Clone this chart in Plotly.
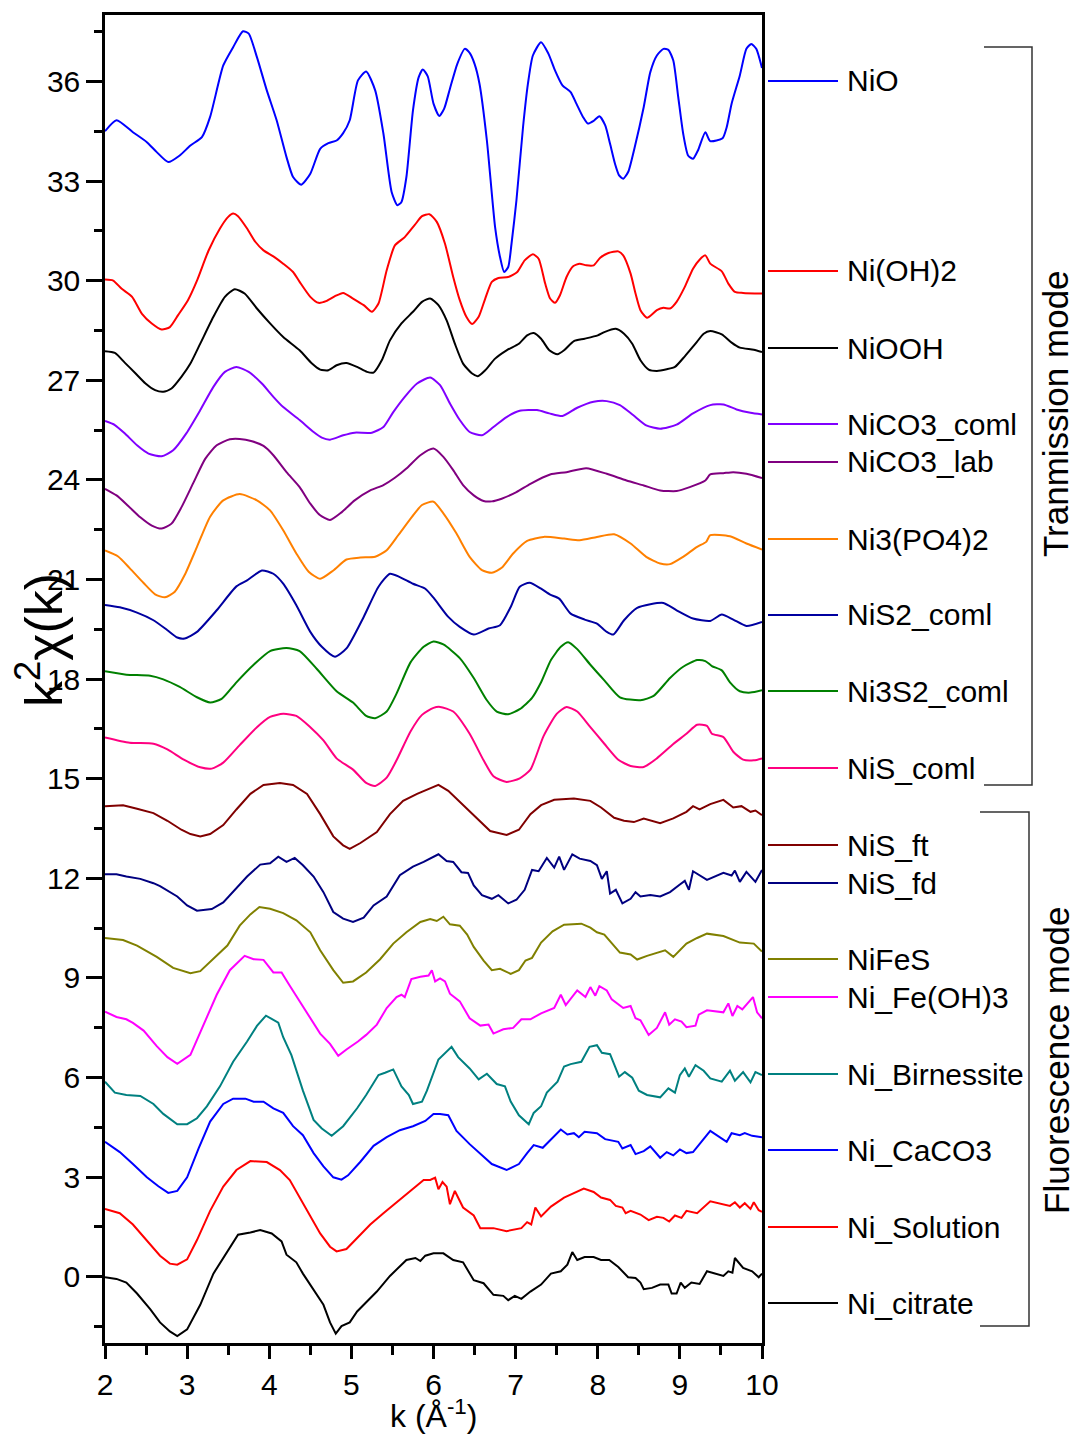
import plotly.graph_objects as go

# ---------------- data ----------------
NIO_K = [2.00, 2.14, 2.34, 2.51, 2.63, 2.77, 2.91, 3.04, 3.18, 3.28, 3.44, 3.56, 3.68, 3.75, 3.85, 3.97, 4.09, 4.21, 4.29, 4.39,
         4.50, 4.62, 4.72, 4.82, 4.90, 4.98, 5.08, 5.18, 5.29, 5.39, 5.49, 5.56, 5.61, 5.67, 5.75, 5.82, 5.87, 5.93, 6.00, 6.07,
         6.13, 6.20, 6.29, 6.38, 6.44, 6.50, 6.56, 6.65, 6.75, 6.81, 6.86, 6.91, 6.95, 7.01, 7.09, 7.15, 7.21, 7.31, 7.40, 7.48,
         7.57, 7.67, 7.74, 7.82, 7.88, 7.95, 8.02, 8.09, 8.15, 8.21, 8.26, 8.31, 8.37, 8.45, 8.56, 8.64, 8.72, 8.80, 8.86, 8.92,
         8.98, 9.04, 9.10, 9.16, 9.22, 9.31, 9.37, 9.52, 9.57, 9.63, 9.73, 9.81, 9.87, 9.93, 10.0]
NIO_Y = [34.50, 34.83, 34.47, 34.17, 33.87, 33.57, 33.77, 34.07, 34.32, 34.93, 36.48, 37.03, 37.51, 37.44, 36.73, 35.73, 34.83, 33.72, 33.12, 32.89,
         33.22, 33.97, 34.14, 34.22, 34.44, 34.83, 36.03, 36.30, 35.73, 34.43, 32.67, 32.27, 32.37, 33.12, 35.13, 36.13, 36.36, 36.15, 35.33, 34.96,
         35.18, 35.78, 36.53, 36.98, 36.86, 36.53, 35.93, 34.22, 31.61, 30.71, 30.26, 30.41, 31.11, 32.42, 34.62, 35.93, 36.78, 37.18, 36.83, 36.33,
         35.88, 35.68, 35.33, 34.93, 34.73, 34.81, 34.95, 34.68, 34.12, 33.52, 33.17, 33.07, 33.27, 34.02, 35.23, 36.28, 36.78, 36.98, 36.95, 36.63,
         35.53, 34.43, 33.77, 33.67, 33.92, 34.47, 34.20, 34.29, 34.62, 35.33, 36.18, 36.98, 37.13, 36.98, 36.40]

NIOH2_K = [2.00, 2.10, 2.20, 2.33, 2.45, 2.57, 2.69, 2.79, 2.89, 3.01, 3.12, 3.26, 3.40, 3.50, 3.56, 3.62, 3.73, 3.83, 3.93, 4.05,
           4.17, 4.29, 4.37, 4.50, 4.60, 4.70, 4.80, 4.90, 5.02, 5.15, 5.25, 5.33, 5.43, 5.53, 5.65, 5.77, 5.86, 5.95, 6.04, 6.14,
           6.24, 6.32, 6.40, 6.47, 6.55, 6.63, 6.71, 6.79, 6.91, 7.02, 7.11, 7.21, 7.28, 7.36, 7.42, 7.48, 7.54, 7.62, 7.70, 7.78,
           7.86, 7.95, 8.03, 8.13, 8.25, 8.31, 8.40, 8.46, 8.52, 8.60, 8.72, 8.80, 8.88, 8.96, 9.06, 9.16, 9.24, 9.31, 9.37, 9.51,
           9.59, 9.67, 9.77, 10.0]
NIOH2_Y = [30.03, 30.00, 29.76, 29.51, 29.00, 28.71, 28.53, 28.60, 28.96, 29.41, 30.00, 30.90, 31.57, 31.92, 32.02, 31.94, 31.57, 31.17, 30.91, 30.73,
           30.51, 30.26, 29.96, 29.51, 29.33, 29.39, 29.53, 29.63, 29.46, 29.26, 29.06, 29.31, 30.31, 31.06, 31.31, 31.67, 31.94, 32.00, 31.77, 31.11,
           30.11, 29.41, 28.91, 28.69, 28.91, 29.46, 29.96, 30.08, 30.11, 30.26, 30.61, 30.79, 30.66, 29.91, 29.46, 29.33, 29.56, 30.11, 30.43, 30.51,
           30.46, 30.46, 30.69, 30.83, 30.88, 30.76, 30.21, 29.61, 29.11, 28.88, 29.11, 29.18, 29.16, 29.36, 29.81, 30.36, 30.63, 30.76, 30.51, 30.28,
           29.91, 29.66, 29.63, 29.61]

NIOOH_K = [2.00, 2.12, 2.24, 2.37, 2.49, 2.61, 2.71, 2.81, 2.93, 3.04, 3.16, 3.32, 3.46, 3.58, 3.70, 3.85, 4.01, 4.17, 4.37, 4.52,
           4.62, 4.72, 4.82, 4.94, 5.07, 5.19, 5.27, 5.37, 5.47, 5.61, 5.75, 5.86, 5.96, 6.06, 6.16, 6.26, 6.36, 6.47, 6.54, 6.63,
           6.75, 6.89, 7.04, 7.14, 7.22, 7.31, 7.41, 7.51, 7.59, 7.71, 7.84, 8.00, 8.08, 8.22, 8.32, 8.42, 8.52, 8.62, 8.72, 8.84,
           8.94, 9.06, 9.19, 9.29, 9.37, 9.51, 9.63, 9.73, 9.90, 10.0]
NIOOH_Y = [27.87, 27.82, 27.53, 27.21, 26.91, 26.70, 26.65, 26.75, 27.10, 27.50, 28.10, 28.91, 29.51, 29.74, 29.61, 29.16, 28.71, 28.30, 27.90, 27.50,
           27.32, 27.30, 27.45, 27.52, 27.40, 27.25, 27.23, 27.60, 28.20, 28.71, 29.06, 29.36, 29.46, 29.26, 28.80, 28.10, 27.50, 27.20, 27.12, 27.30,
           27.65, 27.90, 28.10, 28.35, 28.42, 28.25, 27.90, 27.78, 27.90, 28.18, 28.25, 28.35, 28.45, 28.55, 28.40, 28.10, 27.60, 27.32, 27.28, 27.33,
           27.40, 27.72, 28.10, 28.40, 28.48, 28.38, 28.13, 27.98, 27.92, 27.85]

NICO3C_K = [2.00, 2.12, 2.24, 2.39, 2.53, 2.69, 2.83, 2.99, 3.16, 3.32, 3.46, 3.60, 3.75, 3.91, 4.05, 4.17, 4.37, 4.54, 4.64, 4.74,
            4.90, 5.04, 5.25, 5.39, 5.51, 5.65, 5.80, 5.96, 6.08, 6.20, 6.32, 6.44, 6.59, 6.73, 6.89, 7.05, 7.26, 7.41, 7.57, 7.75,
            7.95, 8.11, 8.27, 8.43, 8.59, 8.76, 8.96, 9.16, 9.37, 9.53, 9.69, 9.86, 10.0]
NICO3C_Y = [25.77, 25.65, 25.40, 25.04, 24.79, 24.71, 24.89, 25.40, 26.10, 26.80, 27.25, 27.40, 27.25, 26.90, 26.50, 26.19, 25.80, 25.44, 25.27, 25.21,
            25.34, 25.42, 25.42, 25.59, 26.04, 26.50, 26.90, 27.08, 26.85, 26.30, 25.80, 25.44, 25.34, 25.59, 25.89, 26.08, 26.10, 26.00, 25.92, 26.17,
            26.35, 26.37, 26.25, 25.95, 25.64, 25.54, 25.66, 26.00, 26.25, 26.27, 26.12, 26.02, 25.97]

NICO3L_K = [2.00, 2.14, 2.28, 2.43, 2.57, 2.69, 2.81, 2.93, 3.08, 3.22, 3.36, 3.52, 3.64, 3.79, 3.93, 4.05, 4.21, 4.37, 4.50, 4.62,
            4.74, 4.88, 5.04, 5.23, 5.39, 5.53, 5.67, 5.84, 6.00, 6.12, 6.24, 6.36, 6.49, 6.61, 6.71, 6.83, 7.01, 7.18, 7.42, 7.62,
            7.86, 8.11, 8.35, 8.56, 8.76, 8.96, 9.12, 9.31, 9.37, 9.53, 9.65, 9.81, 10.0]
NICO3L_Y = [23.73, 23.53, 23.22, 22.87, 22.62, 22.53, 22.68, 23.17, 23.93, 24.63, 25.04, 25.22, 25.23, 25.16, 25.02, 24.74, 24.23, 23.78, 23.28, 22.93,
            22.79, 23.02, 23.38, 23.68, 23.84, 24.06, 24.34, 24.74, 24.94, 24.69, 24.29, 23.84, 23.53, 23.36, 23.35, 23.43, 23.63, 23.88, 24.16, 24.23,
            24.35, 24.18, 23.98, 23.83, 23.68, 23.66, 23.78, 23.98, 24.16, 24.20, 24.23, 24.18, 24.05]

NI3PO42_K = [2.00, 2.16, 2.30, 2.47, 2.61, 2.73, 2.85, 2.97, 3.12, 3.28, 3.44, 3.64, 3.85, 4.01, 4.17, 4.33, 4.48, 4.62, 4.78, 4.94,
             5.11, 5.29, 5.43, 5.57, 5.74, 5.86, 6.00, 6.12, 6.28, 6.44, 6.59, 6.71, 6.83, 6.97, 7.14, 7.34, 7.59, 7.78, 7.99, 8.20,
             8.40, 8.59, 8.76, 8.88, 9.04, 9.21, 9.32, 9.37, 9.61, 9.81, 10.0]
NI3PO42_Y = [21.87, 21.69, 21.34, 20.89, 20.55, 20.46, 20.63, 21.13, 21.98, 22.89, 23.38, 23.57, 23.38, 23.08, 22.48, 21.78, 21.23, 21.02, 21.27, 21.60,
             21.66, 21.68, 21.88, 22.33, 22.89, 23.24, 23.34, 22.99, 22.38, 21.68, 21.28, 21.20, 21.35, 21.78, 22.16, 22.28, 22.23, 22.18, 22.28, 22.36,
             22.08, 21.68, 21.48, 21.46, 21.68, 21.98, 22.13, 22.33, 22.30, 22.08, 21.90]

NIS2_K = [2.00, 2.18, 2.39, 2.59, 2.76, 2.88, 2.97, 3.12, 3.36, 3.60, 3.73, 3.91, 4.05, 4.17, 4.33, 4.50, 4.64, 4.80, 4.94, 5.15,
          5.33, 5.47, 5.59, 5.75, 5.90, 6.00, 6.18, 6.32, 6.49, 6.67, 6.81, 6.94, 7.05, 7.17, 7.31, 7.42, 7.53, 7.67, 7.84, 7.99,
          8.11, 8.19, 8.32, 8.48, 8.64, 8.80, 8.96, 9.16, 9.37, 9.51, 9.65, 9.81, 10.0]
NIS2_Y = [20.23, 20.16, 20.00, 19.77, 19.47, 19.25, 19.22, 19.42, 20.07, 20.79, 20.97, 21.27, 21.17, 20.87, 20.22, 19.42, 18.97, 18.67, 18.92, 19.87,
          20.78, 21.17, 21.07, 20.87, 20.72, 20.45, 19.87, 19.57, 19.34, 19.52, 19.62, 20.17, 20.78, 20.90, 20.72, 20.54, 20.42, 19.97, 19.79, 19.67,
          19.42, 19.34, 19.77, 20.14, 20.25, 20.29, 20.07, 19.82, 19.75, 19.94, 19.79, 19.60, 19.72]

NI3S2_K = [2.00, 2.26, 2.55, 2.71, 2.91, 3.12, 3.28, 3.42, 3.60, 3.81, 4.01, 4.21, 4.37, 4.58, 4.82, 5.02, 5.18, 5.29, 5.43, 5.55,
           5.72, 5.88, 6.00, 6.12, 6.32, 6.49, 6.65, 6.77, 6.91, 7.05, 7.20, 7.31, 7.43, 7.55, 7.64, 7.75, 7.91, 8.08, 8.27, 8.52,
           8.68, 8.88, 9.04, 9.21, 9.31, 9.39, 9.51, 9.61, 9.73, 9.86, 10.0]
NI3S2_Y = [18.23, 18.13, 18.10, 17.99, 17.76, 17.45, 17.29, 17.40, 17.90, 18.43, 18.84, 18.93, 18.84, 18.30, 17.63, 17.29, 16.89, 16.82, 17.02, 17.56,
           18.50, 18.97, 19.13, 19.04, 18.63, 18.03, 17.36, 17.02, 16.94, 17.09, 17.43, 17.90, 18.57, 18.97, 19.11, 18.90, 18.43, 17.96, 17.45, 17.36,
           17.49, 18.03, 18.37, 18.57, 18.54, 18.39, 18.26, 17.90, 17.63, 17.59, 17.66]

NISC_K = [2.00, 2.30, 2.59, 2.76, 2.96, 3.16, 3.30, 3.44, 3.64, 3.85, 4.01, 4.17, 4.33, 4.50, 4.66, 4.82, 5.02, 5.18, 5.29, 5.43,
          5.55, 5.72, 5.86, 6.00, 6.08, 6.24, 6.44, 6.61, 6.73, 6.89, 7.05, 7.18, 7.34, 7.50, 7.62, 7.75, 7.91, 8.08, 8.25, 8.40,
          8.56, 8.72, 8.92, 9.08, 9.21, 9.33, 9.39, 9.53, 9.65, 9.77, 9.90, 10.0]
NISC_Y = [16.24, 16.08, 16.05, 15.88, 15.57, 15.34, 15.30, 15.48, 16.01, 16.55, 16.86, 16.95, 16.89, 16.55, 16.15, 15.61, 15.27, 14.87, 14.78, 15.03,
          15.55, 16.42, 16.92, 17.13, 17.16, 17.02, 16.35, 15.55, 15.07, 14.90, 15.01, 15.27, 16.28, 16.95, 17.16, 17.02, 16.55, 16.05, 15.57, 15.38,
          15.35, 15.61, 16.04, 16.35, 16.62, 16.59, 16.35, 16.25, 15.81, 15.57, 15.55, 15.61]

NISFT_K = [2.00, 2.22, 2.39, 2.59, 2.76, 2.93, 3.04, 3.16, 3.28, 3.44, 3.60, 3.77, 3.93, 4.13, 4.29, 4.46, 4.62, 4.78, 4.90, 4.98,
           5.11, 5.31, 5.47, 5.63, 5.80, 5.96, 6.06, 6.18, 6.36, 6.52, 6.69, 6.89, 7.04, 7.18, 7.31, 7.47, 7.71, 7.91, 8.04, 8.20,
           8.32, 8.44, 8.56, 8.76, 8.92, 9.08, 9.16, 9.24, 9.37, 9.53, 9.65, 9.75, 9.86, 9.92, 10.0]
NISFT_Y = [14.17, 14.20, 14.09, 13.96, 13.73, 13.46, 13.33, 13.26, 13.33, 13.60, 14.07, 14.54, 14.81, 14.87, 14.81, 14.54, 13.93, 13.26, 12.99, 12.88,
           13.06, 13.39, 13.93, 14.33, 14.54, 14.70, 14.81, 14.63, 14.20, 13.80, 13.42, 13.30, 13.46, 13.93, 14.20, 14.36, 14.40, 14.33, 14.13, 13.82,
           13.73, 13.69, 13.80, 13.66, 13.80, 14.00, 14.17, 14.07, 14.23, 14.36, 14.13, 14.17, 14.00, 14.04, 13.90]

NISFD_K = [2.00, 2.14, 2.26, 2.43, 2.59, 2.67, 2.88, 3.00, 3.12, 3.30, 3.44, 3.56, 3.73, 3.89, 4.01, 4.11, 4.21, 4.31, 4.41, 4.54,
           4.66, 4.78, 4.90, 5.02, 5.15, 5.27, 5.43, 5.59, 5.75, 5.88, 5.96, 6.06, 6.16, 6.24, 6.34, 6.42, 6.49, 6.59, 6.71, 6.79,
           6.91, 7.01, 7.11, 7.20, 7.28, 7.38, 7.47, 7.53, 7.59, 7.69, 7.78, 7.91, 7.99, 8.05, 8.11, 8.15, 8.22, 8.30, 8.40, 8.46,
           8.52, 8.64, 8.76, 8.88, 9.00, 9.06, 9.11, 9.16, 9.33, 9.53, 9.63, 9.67, 9.73, 9.81, 9.92, 10.0]
NISFD_Y = [12.12, 12.12, 12.05, 11.98, 11.85, 11.76, 11.45, 11.18, 11.02, 11.07, 11.27, 11.58, 12.05, 12.41, 12.45, 12.65, 12.49, 12.61, 12.39, 12.05,
           11.58, 10.98, 10.78, 10.68, 10.81, 11.18, 11.45, 12.09, 12.35, 12.49, 12.59, 12.72, 12.52, 12.49, 12.18, 12.16, 11.78, 11.49, 11.38, 11.49,
           11.24, 11.35, 11.65, 12.25, 12.21, 12.61, 12.32, 12.65, 12.25, 12.72, 12.59, 12.52, 12.39, 11.98, 12.21, 11.54, 11.65, 11.24, 11.38, 11.58,
           11.45, 11.49, 11.45, 11.58, 11.81, 11.92, 11.65, 12.21, 11.95, 12.16, 12.08, 12.23, 11.89, 12.19, 11.89, 12.25]

NIFES_K = [2.00, 2.22, 2.39, 2.63, 2.83, 3.04, 3.16, 3.32, 3.49, 3.64, 3.77, 3.88, 4.01, 4.17, 4.33, 4.50, 4.62, 4.78, 4.90, 5.02,
           5.18, 5.35, 5.51, 5.67, 5.84, 5.96, 6.04, 6.12, 6.20, 6.32, 6.41, 6.49, 6.61, 6.71, 6.81, 6.94, 7.04, 7.12, 7.20, 7.31,
           7.45, 7.59, 7.80, 7.91, 7.99, 8.08, 8.18, 8.27, 8.40, 8.48, 8.60, 8.72, 8.82, 8.92, 9.08, 9.21, 9.33, 9.53, 9.73, 9.90,
           10.0]
NIFES_Y = [10.20, 10.14, 9.97, 9.63, 9.30, 9.14, 9.20, 9.56, 9.97, 10.57, 10.91, 11.13, 11.08, 10.95, 10.73, 10.37, 9.83, 9.23, 8.85, 8.89,
           9.16, 9.56, 10.03, 10.37, 10.68, 10.77, 10.71, 10.84, 10.61, 10.57, 10.30, 9.93, 9.52, 9.23, 9.27, 9.12, 9.23, 9.52, 9.60, 10.06,
           10.40, 10.60, 10.63, 10.51, 10.37, 10.30, 10.03, 9.76, 9.70, 9.55, 9.66, 9.76, 9.83, 9.63, 10.03, 10.20, 10.33, 10.26, 10.06, 10.03,
           9.79]

NIFEOH3_K = [2.00, 2.14, 2.26, 2.34, 2.47, 2.63, 2.76, 2.88, 3.04, 3.16, 3.24, 3.36, 3.52, 3.70, 3.81, 3.93, 4.05, 4.15, 4.25, 4.37,
             4.50, 4.62, 4.74, 4.84, 4.94, 5.08, 5.18, 5.31, 5.43, 5.55, 5.61, 5.65, 5.73, 5.84, 5.94, 5.98, 6.02, 6.08, 6.14, 6.20,
             6.32, 6.44, 6.57, 6.67, 6.73, 6.85, 6.97, 7.07, 7.18, 7.31, 7.47, 7.55, 7.61, 7.75, 7.85, 7.91, 7.97, 8.02, 8.11, 8.17,
             8.31, 8.40, 8.46, 8.52, 8.62, 8.72, 8.82, 8.87, 8.94, 9.02, 9.08, 9.19, 9.23, 9.33, 9.53, 9.59, 9.64, 9.70, 9.76, 9.89,
             9.94, 10.0]
NIFEOH3_Y = [7.98, 7.82, 7.75, 7.64, 7.41, 6.94, 6.61, 6.41, 6.68, 7.35, 7.78, 8.49, 9.23, 9.66, 9.56, 9.54, 9.16, 9.16, 8.76, 8.29,
             7.82, 7.32, 7.01, 6.65, 6.84, 7.08, 7.28, 7.59, 8.09, 8.42, 8.49, 8.42, 8.96, 9.03, 9.07, 9.23, 8.89, 8.98, 8.89, 8.52,
             8.29, 7.78, 7.56, 7.59, 7.32, 7.45, 7.49, 7.75, 7.75, 7.93, 8.09, 8.49, 8.18, 8.62, 8.42, 8.72, 8.46, 8.75, 8.62, 8.35,
             8.09, 8.15, 7.78, 7.72, 7.28, 7.49, 7.96, 7.59, 7.75, 7.68, 7.51, 7.56, 7.89, 8.02, 7.96, 8.23, 7.85, 8.15, 8.05, 8.42,
             7.96, 7.78]

NIBIRN_K = [2.00, 2.12, 2.26, 2.43, 2.59, 2.71, 2.88, 3.00, 3.12, 3.24, 3.40, 3.56, 3.73, 3.85, 3.96, 4.11, 4.17, 4.27, 4.41, 4.54,
            4.64, 4.76, 4.90, 5.07, 5.18, 5.33, 5.41, 5.51, 5.61, 5.70, 5.75, 5.86, 5.92, 5.97, 6.06, 6.22, 6.30, 6.44, 6.55, 6.65,
            6.77, 6.87, 6.94, 7.04, 7.16, 7.22, 7.31, 7.38, 7.51, 7.59, 7.67, 7.80, 7.90, 7.99, 8.05, 8.15, 8.26, 8.33, 8.42, 8.50,
            8.60, 8.76, 8.86, 8.94, 9.00, 9.06, 9.11, 9.19, 9.29, 9.37, 9.51, 9.61, 9.67, 9.77, 9.86, 9.92, 10.0]
NIBIRN_Y = [5.87, 5.54, 5.47, 5.44, 5.20, 4.90, 4.59, 4.59, 4.77, 5.13, 5.73, 6.47, 7.08, 7.55, 7.86, 7.65, 7.21, 6.67, 5.60, 4.72,
            4.46, 4.24, 4.53, 5.07, 5.47, 6.07, 6.14, 6.24, 5.73, 5.47, 5.20, 5.27, 5.60, 5.95, 6.54, 6.92, 6.61, 6.27, 5.94, 6.11,
            5.80, 5.73, 5.27, 4.86, 4.59, 4.93, 5.13, 5.54, 5.87, 6.33, 6.40, 6.47, 6.92, 6.97, 6.74, 6.70, 6.02, 6.16, 5.99, 5.60,
            5.47, 5.40, 5.67, 5.54, 6.07, 6.27, 6.02, 6.37, 6.20, 5.97, 5.87, 6.20, 5.90, 6.16, 5.85, 6.16, 6.07]

NICACO3_K = [2.00, 2.18, 2.34, 2.51, 2.65, 2.77, 2.88, 3.00, 3.14, 3.28, 3.44, 3.56, 3.71, 3.81, 3.93, 4.05, 4.17, 4.29, 4.41, 4.54,
             4.66, 4.78, 4.88, 4.96, 5.11, 5.27, 5.43, 5.59, 5.75, 5.90, 6.00, 6.08, 6.18, 6.28, 6.44, 6.59, 6.71, 6.89, 7.04, 7.14,
             7.22, 7.33, 7.43, 7.55, 7.63, 7.71, 7.77, 7.84, 7.99, 8.09, 8.25, 8.30, 8.40, 8.46, 8.56, 8.64, 8.76, 8.84, 8.92, 9.00,
             9.08, 9.16, 9.37, 9.57, 9.63, 9.73, 9.79, 9.88, 10.0]
NICACO3_Y = [4.06, 3.75, 3.39, 2.99, 2.72, 2.52, 2.58, 2.99, 3.86, 4.67, 5.20, 5.36, 5.36, 5.27, 5.27, 5.07, 4.93, 4.53, 4.26, 3.72,
             3.32, 2.99, 2.92, 3.05, 3.46, 3.94, 4.20, 4.41, 4.53, 4.69, 4.90, 4.90, 4.86, 4.39, 3.99, 3.65, 3.39, 3.21, 3.39, 3.72,
             3.96, 3.88, 4.14, 4.43, 4.28, 4.32, 4.20, 4.36, 4.32, 4.14, 4.06, 3.86, 3.96, 3.69, 3.78, 3.92, 3.58, 3.75, 3.65, 3.83,
             3.72, 3.75, 4.39, 4.06, 4.32, 4.26, 4.32, 4.24, 4.20]

NISOL_K = [2.00, 2.18, 2.34, 2.51, 2.67, 2.79, 2.88, 3.00, 3.12, 3.28, 3.44, 3.60, 3.77, 3.97, 4.13, 4.25, 4.37, 4.50, 4.62, 4.74,
           4.82, 4.94, 5.07, 5.23, 5.39, 5.55, 5.72, 5.88, 5.96, 6.02, 6.06, 6.11, 6.16, 6.20, 6.26, 6.36, 6.49, 6.57, 6.73, 6.89,
           7.07, 7.14, 7.19, 7.24, 7.31, 7.43, 7.59, 7.71, 7.83, 7.95, 8.04, 8.15, 8.22, 8.30, 8.34, 8.40, 8.52, 8.62, 8.72, 8.80,
           8.87, 8.94, 9.02, 9.08, 9.21, 9.37, 9.61, 9.67, 9.73, 9.79, 9.86, 9.90, 9.96, 10.0]
NISOL_Y = [2.04, 1.91, 1.57, 1.10, 0.63, 0.39, 0.36, 0.52, 1.10, 1.98, 2.71, 3.21, 3.48, 3.45, 3.21, 2.91, 2.38, 1.84, 1.30, 0.90,
           0.76, 0.83, 1.17, 1.57, 1.91, 2.24, 2.58, 2.91, 2.91, 2.98, 2.63, 2.85, 2.71, 2.18, 2.58, 2.08, 1.84, 1.46, 1.46, 1.37,
           1.46, 1.64, 1.57, 2.08, 1.81, 2.11, 2.38, 2.51, 2.65, 2.55, 2.38, 2.31, 2.13, 2.08, 1.91, 1.98, 1.87, 1.70, 1.80, 1.77,
           1.66, 1.84, 1.77, 1.98, 1.91, 2.27, 2.13, 2.24, 2.08, 2.21, 2.04, 2.24, 2.00, 1.95]

NICIT_K = [2.00, 2.14, 2.26, 2.39, 2.55, 2.67, 2.79, 2.88, 3.00, 3.16, 3.32, 3.49, 3.62, 3.77, 3.89, 4.03, 4.15, 4.21, 4.33, 4.41,
           4.54, 4.66, 4.74, 4.81, 4.88, 4.98, 5.07, 5.18, 5.31, 5.47, 5.59, 5.67, 5.78, 5.84, 5.90, 6.00, 6.12, 6.24, 6.36, 6.49,
           6.61, 6.73, 6.85, 6.91, 6.99, 7.07, 7.18, 7.31, 7.43, 7.55, 7.63, 7.69, 7.75, 7.84, 7.95, 8.04, 8.14, 8.25, 8.37, 8.46,
           8.52, 8.56, 8.66, 8.76, 8.86, 8.90, 8.96, 9.01, 9.06, 9.14, 9.24, 9.33, 9.53, 9.59, 9.64, 9.67, 9.77, 9.88, 9.96, 10.0]
NICIT_Y = [-0.02, -0.07, -0.18, -0.51, -0.98, -1.38, -1.65, -1.79, -1.59, -0.85, 0.09, 0.76, 1.26, 1.33, 1.40, 1.30, 1.06, 0.66, 0.43, 0.09,
           -0.38, -0.85, -1.38, -1.72, -1.49, -1.38, -1.05, -0.78, -0.45, 0.02, 0.29, 0.50, 0.56, 0.47, 0.63, 0.70, 0.70, 0.50, 0.43, -0.11,
           -0.20, -0.55, -0.58, -0.71, -0.58, -0.67, -0.45, -0.24, 0.09, 0.16, 0.36, 0.74, 0.50, 0.59, 0.59, 0.50, 0.50, 0.29, -0.02, -0.04,
           -0.18, -0.38, -0.34, -0.24, -0.24, -0.51, -0.51, -0.18, -0.34, -0.18, -0.22, 0.16, 0.02, 0.16, 0.12, 0.56, 0.26, 0.16, -0.02, 0.09]

NAMES = ["NiO", "Ni(OH)2", "NiOOH", "NiCO3_coml", "NiCO3_lab", "Ni3(PO4)2", "NiS2_coml", "Ni3S2_coml", "NiS_coml",
         "NiS_ft", "NiS_fd", "NiFeS", "Ni_Fe(OH)3", "Ni_Birnessite", "Ni_CaCO3", "Ni_Solution", "Ni_citrate"]
K_LISTS = [NIO_K, NIOH2_K, NIOOH_K, NICO3C_K, NICO3L_K, NI3PO42_K, NIS2_K, NI3S2_K, NISC_K,
           NISFT_K, NISFD_K, NIFES_K, NIFEOH3_K, NIBIRN_K, NICACO3_K, NISOL_K, NICIT_K]
Y_LISTS = [NIO_Y, NIOH2_Y, NIOOH_Y, NICO3C_Y, NICO3L_Y, NI3PO42_Y, NIS2_Y, NI3S2_Y, NISC_Y,
           NISFT_Y, NISFD_Y, NIFES_Y, NIFEOH3_Y, NIBIRN_Y, NICACO3_Y, NISOL_Y, NICIT_Y]

# ---------------- styles ----------------
COLORS = ["#0000FF", "#FF0000", "#000000", "#8000FF", "#800080", "#FF8000", "#0000A0", "#008000", "#FF0080",
          "#800000", "#000080", "#808000", "#FF00FF", "#008080", "#0000FF", "#FF0000", "#000000"]
SMOOTH = [True] * 9 + [False] * 8
LEGEND_PY = [81, 271, 348, 424, 462, 539, 615, 691, 768, 845, 883, 959, 997, 1074, 1150, 1227, 1303]

FONT = "Arial, 'Liberation Sans', sans-serif"
W, H = 1076, 1436
PL, PR, PT, PB = 105, 762, 15, 1343


def xp(px):
    return (px - PL) / (PR - PL)


def yp(py):
    return (PB - py) / (PB - PT)


fig = go.Figure()
for name, col, ks, ys, sm in zip(NAMES, COLORS, K_LISTS, Y_LISTS, SMOOTH):
    if len(ks) != len(ys):
        raise ValueError(f"length mismatch {name}: {len(ks)} vs {len(ys)}")
    line = dict(color=col, width=2)
    if sm:
        line.update(shape="spline", smoothing=0.6)
    fig.add_trace(go.Scatter(x=ks, y=ys, mode="lines", name=name, line=line, showlegend=False))

shapes = []
annotations = []
# custom legend
for name, col, py in zip(NAMES, COLORS, LEGEND_PY):
    shapes.append(dict(type="line", xref="paper", yref="paper", x0=xp(768), x1=xp(838), y0=yp(py), y1=yp(py),
                       line=dict(color=col, width=2)))
    annotations.append(dict(text=name, xref="paper", yref="paper", x=xp(845), y=yp(py), xanchor="left",
                            yanchor="middle", showarrow=False, font=dict(family=FONT, size=30, color="black")))

# brackets
BR = "#333333"
for (x0, x1, y0, y1) in [(984, 1032, 47, 785), (980, 1029, 812, 1326)]:
    shapes.append(dict(type="path", xref="paper", yref="paper",
                       path=f"M {xp(x0)} {yp(y0)} L {xp(x1)} {yp(y0)} L {xp(x1)} {yp(y1)} L {xp(x0)} {yp(y1)}",
                       line=dict(color=BR, width=1.5)))

annotations.append(dict(text="Tranmission mode", xref="paper", yref="paper", x=xp(1056), y=yp(414),
                        textangle=-90, showarrow=False, xanchor="center", yanchor="middle",
                        font=dict(family=FONT, size=35, color="black")))
annotations.append(dict(text="Fluorescence mode", xref="paper", yref="paper", x=xp(1056), y=yp(1061),
                        textangle=-90, showarrow=False, xanchor="center", yanchor="middle",
                        font=dict(family=FONT, size=35, color="black")))
# axis titles
annotations.append(dict(text="k<sup>2</sup>χ(k)", xref="paper", yref="paper", x=xp(40), y=yp(640),
                        textangle=-90, showarrow=False, xanchor="center", yanchor="middle",
                        font=dict(family=FONT, size=52, color="black")))
annotations.append(dict(text="k (Å<sup>-1</sup>)", xref="paper", yref="paper", x=xp(433), y=yp(1414),
                        showarrow=False, xanchor="center", yanchor="middle",
                        font=dict(family=FONT, size=32, color="black")))

axis_common = dict(showgrid=False, zeroline=False, showline=True, linecolor="black", linewidth=2.5, mirror=True,
                   ticks="outside", tickwidth=2.5, tickcolor="black",
                   tickfont=dict(family=FONT, size=30, color="black"))

fig.update_layout(
    width=W, height=H,
    margin=dict(l=PL, r=W - PR, t=PT, b=H - PB, pad=0),
    paper_bgcolor="white", plot_bgcolor="white",
    xaxis=dict(range=[2, 10], tickmode="linear", tick0=2, dtick=1, ticklen=13,
               minor=dict(dtick=0.5, tick0=2, ticklen=9, tickwidth=2.5, tickcolor="black", ticks="outside", showgrid=False),
               **axis_common),
    yaxis=dict(range=[-2, 38], tickmode="linear", tick0=0, dtick=3, ticklen=16,
               minor=dict(dtick=1.5, tick0=0, ticklen=8, tickwidth=2.5, tickcolor="black", ticks="outside", showgrid=False),
               **axis_common),
    shapes=shapes,
    annotations=annotations,
    showlegend=False,
)

fig.write_html("out.html")
